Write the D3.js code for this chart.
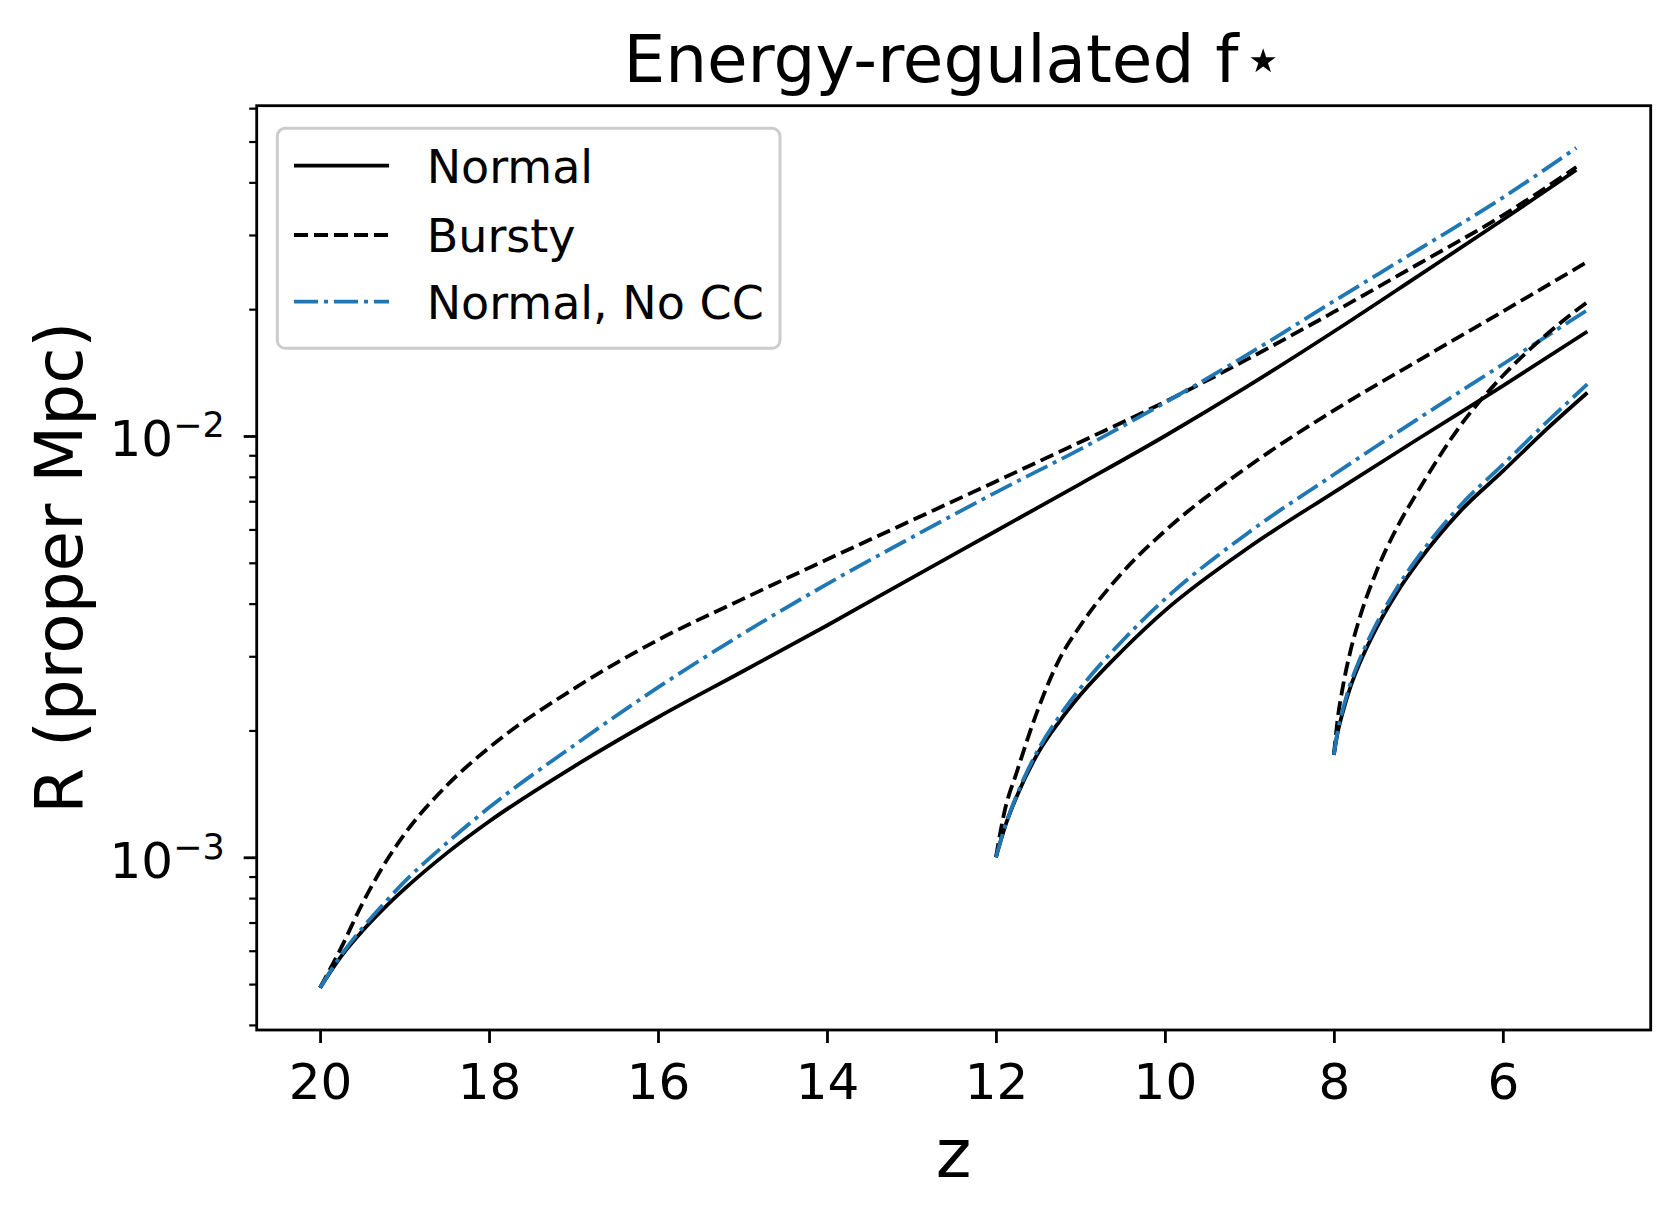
<!DOCTYPE html>
<html>
<head>
<meta charset="utf-8">
<script src="https://cdn.jsdelivr.net/npm/d3@7"></script>
<style>
  body { margin: 0; background: #fff; }
  text { font-family: "DejaVu Sans", sans-serif; fill: #000; }
</style>
</head>
<body>
<svg id="chart" width="1679" height="1218"></svg>
<script>
"use strict"

// redshift grids (one per starting redshift)
var zStart20 = [20, 19.75, 19.5, 19.25, 19, 18.5, 18, 17, 16, 15, 14, 13, 12, 11, 10, 9, 8, 7, 6, 5.13];
var zStart12 = [12, 11.9, 11.75, 11.5, 11.25, 11, 10.5, 10, 9, 8, 7, 6, 5];
var zStart8  = [8, 7.95, 7.9, 7.8, 7.7, 7.5, 7.25, 7, 6.5, 6, 5.5, 5];

// R (proper Mpc)
var normal20 = [4.9e-4, 5.82e-4, 6.68e-4, 7.54e-4, 8.41e-4, 1.023e-3, 1.216e-3, 1.64e-3, 2.15e-3, 2.76e-3, 3.55e-3, 4.6e-3, 5.95e-3, 7.7e-3, 1.0e-2, 1.32e-2, 1.77e-2, 2.4e-2, 3.26e-2, 4.28e-2];
var bursty20 = [4.9e-4, 6.1e-4, 7.76e-4, 9.55e-4, 1.135e-3, 1.48e-3, 1.82e-3, 2.51e-3, 3.28e-3, 4.1e-3, 5.09e-3, 6.3e-3, 7.8e-3, 9.68e-3, 1.205e-2, 1.53e-2, 1.97e-2, 2.56e-2, 3.34e-2, 4.35e-2];
var noCC20   = [4.9e-4, 5.86e-4, 6.79e-4, 7.74e-4, 8.75e-4, 1.081e-3, 1.312e-3, 1.84e-3, 2.53e-3, 3.39e-3, 4.45e-3, 5.74e-3, 7.35e-3, 9.31e-3, 1.2e-2, 1.57e-2, 2.09e-2, 2.77e-2, 3.68e-2, 4.83e-2];

var normal12 = [1.0e-3, 1.17e-3, 1.4e-3, 1.77e-3, 2.1e-3, 2.43e-3, 3.1e-3, 3.85e-3, 5.45e-3, 7.35e-3, 9.85e-3, 1.315e-2, 1.77e-2];
var bursty12 = [1.0e-3, 1.28e-3, 1.6e-3, 2.25e-3, 2.95e-3, 3.55e-3, 4.75e-3, 5.95e-3, 8.5e-3, 1.15e-2, 1.51e-2, 1.975e-2, 2.59e-2];
var noCC12   = [1.0e-3, 1.17e-3, 1.41e-3, 1.8e-3, 2.16e-3, 2.52e-3, 3.27e-3, 4.1e-3, 5.92e-3, 8.1e-3, 1.1e-2, 1.48e-2, 1.99e-2];

var normal8 = [1.75e-3, 2.0e-3, 2.19e-3, 2.55e-3, 2.87e-3, 3.49e-3, 4.26e-3, 5.03e-3, 6.64e-3, 8.25e-3, 1.03e-2, 1.267e-2];
var bursty8 = [1.75e-3, 2.17e-3, 2.5e-3, 3.11e-3, 3.67e-3, 4.75e-3, 6.08e-3, 7.42e-3, 1.06e-2, 1.39e-2, 1.73e-2, 2.08e-2];
var noCC8   = [1.75e-3, 2.02e-3, 2.22e-3, 2.6e-3, 2.93e-3, 3.57e-3, 4.37e-3, 5.17e-3, 6.85e-3, 8.55e-3, 1.07e-2, 1.327e-2];

var zTicks = [20, 18, 16, 14, 12, 10, 8, 6];
var rMajor = [1e-3, 1e-2];
var rMinor = [4e-4, 5e-4, 6e-4, 7e-4, 8e-4, 9e-4,
              2e-3, 3e-3, 4e-3, 5e-3, 6e-3, 7e-3, 8e-3, 9e-3,
              2e-2, 3e-2, 4e-2, 5e-2, 6e-2];

var legendNames = ["Normal", "Bursty", "Normal, No CC"];

var styles = {
    normal: {color: "#000000", dash: null},
    bursty: {color: "#000000", dash: "14,6"},
    nocc:   {color: "#1f77b4", dash: "24,6,4,6"}
};

var series = [
    {z: zStart20, r: normal20, style: "normal"},
    {z: zStart20, r: bursty20, style: "bursty"},
    {z: zStart20, r: noCC20, style: "nocc"},
    {z: zStart12, r: normal12, style: "normal"},
    {z: zStart12, r: bursty12, style: "bursty"},
    {z: zStart12, r: noCC12, style: "nocc"},
    {z: zStart8, r: normal8, style: "normal"},
    {z: zStart8, r: bursty8, style: "bursty"},
    {z: zStart8, r: noCC8, style: "nocc"}
];

var svg = d3.select("#chart");
svg.append("rect").attr("width", 1679).attr("height", 1218).attr("fill", "#fff");

var axLeft = 256.7, axRight = 1650.7, axTop = 105.7, axBottom = 1030;
var lw = 3.8;

var x = d3.scaleLinear().domain([20.75, 4.25]).range([axLeft, axRight]);
var y = d3.scaleLog().domain([Math.pow(10, -3.41), Math.pow(10, -1.216)]).range([axBottom, axTop]);

// curves
var line = d3.line()
    .x(function(d) { return x(d[0]); })
    .y(function(d) { return y(d[1]); })
    .curve(d3.curveMonotoneX);

var plot = svg.append("g");
plot.append("clipPath").attr("id", "clip")
    .append("rect").attr("x", axLeft).attr("y", axTop).attr("width", axRight - axLeft).attr("height", axBottom - axTop);

series.forEach(function(s) {
    var pts = s.z.map(function(z, i) { return [z, s.r[i]]; });
    var st = styles[s.style];
    plot.append("path")
        .attr("clip-path", "url(#clip)")
        .attr("d", line(pts))
        .attr("fill", "none")
        .attr("stroke", st.color)
        .attr("stroke-width", lw)
        .attr("stroke-dasharray", st.dash);
});

// x axis
var xAxis = svg.append("g")
    .attr("transform", "translate(0," + axBottom + ")")
    .call(d3.axisBottom(x).tickValues(zTicks).tickSize(13).tickPadding(20).tickFormat(d3.format("d")));
xAxis.select(".domain").remove();
xAxis.selectAll(".tick line").attr("stroke-width", 2.8);
xAxis.selectAll(".tick text").style("font-size", "50px").attr("font-family", "DejaVu Sans");

// y axis, majors with 10^k labels
var yAxis = svg.append("g")
    .attr("transform", "translate(" + axLeft + ",0)")
    .call(d3.axisLeft(y).tickValues(rMajor).tickSize(13).tickFormat(function() { return ""; }));
yAxis.select(".domain").remove();
yAxis.selectAll(".tick line").attr("stroke-width", 2.8);
yAxis.selectAll(".tick").each(function(d) {
    var t = d3.select(this).append("text")
        .attr("x", -32)
        .attr("dy", 20)
        .attr("text-anchor", "end")
        .attr("font-family", "DejaVu Sans")
        .style("font-size", "50px");
    t.append("tspan").text("10");
    t.append("tspan").attr("dy", -19).style("font-size", "35px").text("\u2212" + Math.round(-Math.log10(d)));
});

var yMinor = svg.append("g")
    .attr("transform", "translate(" + axLeft + ",0)")
    .call(d3.axisLeft(y).tickValues(rMinor).tickSize(7.5).tickFormat(function() { return ""; }));
yMinor.select(".domain").remove();
yMinor.selectAll(".tick line").attr("stroke-width", 2.2);

// frame
svg.append("rect")
    .attr("x", axLeft).attr("y", axTop)
    .attr("width", axRight - axLeft).attr("height", axBottom - axTop)
    .attr("fill", "none").attr("stroke", "#000").attr("stroke-width", 2.8);

// labels
svg.append("text")
    .attr("x", (axLeft + axRight) / 2).attr("y", 1177)
    .attr("text-anchor", "middle")
    .style("font-size", "68px")
    .text("z");

svg.append("text")
    .attr("transform", "translate(82," + ((axTop + axBottom) / 2) + ") rotate(-90)")
    .attr("text-anchor", "middle")
    .style("font-size", "66px")
    .text("R (proper Mpc)");

var title = svg.append("text")
    .attr("x", (axLeft + axRight) / 2).attr("y", 82)
    .attr("text-anchor", "middle")
    .style("font-size", "66px");
title.append("tspan").text("Energy-regulated f");
title.append("tspan").attr("dx", 4).text("\u22c6");

// legend
var legend = svg.append("g").attr("class", "legend");
legend.append("rect")
    .attr("x", 277.3).attr("y", 128.3)
    .attr("width", 502.7).attr("height", 220)
    .attr("rx", 8).attr("ry", 8)
    .attr("fill", "#fff").attr("fill-opacity", 0.8)
    .attr("stroke", "#cccccc").attr("stroke-width", 3);

var legendKeys = ["normal", "bursty", "nocc"];
var rowY = [165.7, 235, 301.7];

legend.selectAll("line.key")
    .data(legendKeys)
    .enter()
    .append("line")
    .attr("class", "key")
    .attr("x1", 294).attr("x2", 389)
    .attr("y1", function(d, i) { return rowY[i]; })
    .attr("y2", function(d, i) { return rowY[i]; })
    .attr("stroke", function(d) { return styles[d].color; })
    .attr("stroke-width", lw)
    .attr("stroke-dasharray", function(d) { return styles[d].dash; });

legend.selectAll("text")
    .data(legendNames)
    .enter()
    .append("text")
    .attr("x", 426.7)
    .attr("y", function(d, i) { return rowY[i] + 17; })
    .style("font-size", "46px")
    .text(function(d) { return d; });
</script>
</body>
</html>
